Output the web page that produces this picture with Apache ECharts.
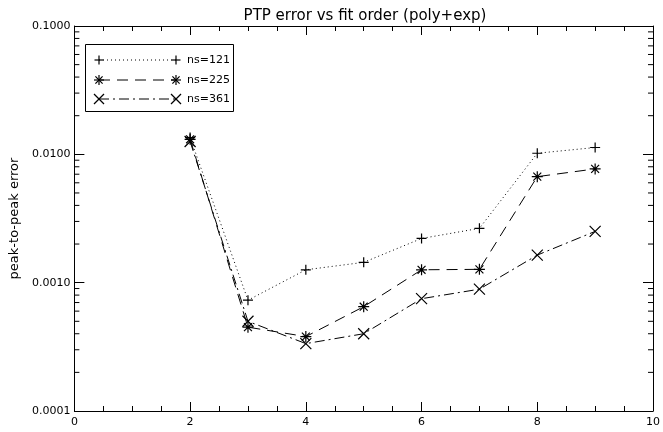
<!DOCTYPE html>
<html>
<head>
<meta charset="utf-8">
<script src="https://cdn.jsdelivr.net/npm/echarts@6/dist/echarts.min.js"></script>
<style>html,body{margin:0;padding:0;background:#fff}#c{width:663px;height:432px}</style>
</head>
<body>
<div id="c"></div>
<script>
// ---- data ----
var orders = [2, 3, 4, 5, 6, 7, 8, 9];
var seriesNames = ['ns=121', 'ns=225', 'ns=361'];
var ns121 = [0.0135, 0.00073, 0.00126, 0.00144, 0.00221, 0.00265, 0.0102, 0.0113];
var ns225 = [0.0131, 0.00045, 0.00038, 0.00065, 0.00126, 0.00127, 0.0067, 0.0077];
var ns361 = [0.0126, 0.00050, 0.000335, 0.00040, 0.00075, 0.00089, 0.00164, 0.00251];
var yTickLabels = ['0.0001', '0.0010', '0.0100', '0.1000'];
var minorMultipliers = [2, 3, 4, 5, 6, 7, 8, 9];
var decades = [0.0001, 0.001, 0.01];

var FONT = 'DejaVu Sans';
var G = {left: 72, right: 3, top: 26, bottom: 21};

// symbol paths
var PLUS = 'path://M-1,0L1,0M0,-1L0,1';
var STAR = 'path://M-1,0L1,0M0,-1L0,1M-0.72,-0.72L0.72,0.72M-0.72,0.72L0.72,-0.72';
var CROSS = 'path://M-1,-1L1,1M-1,1L1,-1';
var symbols = [PLUS, STAR, CROSS];
var symSizes = [10, 11, 11];
var dashes = [[1, 3], [11, 7], [10, 4, 2, 4]];
var allData = [ns121, ns225, ns361];

// minor tick values for the log axis (decoration)
var minorVals = [];
decades.forEach(function (d) {
  minorMultipliers.forEach(function (m) { minorVals.push([0, m * d]); });
});

function pairs(vals) {
  return orders.map(function (x, i) { return [x, vals[i]]; });
}

var series = allData.map(function (vals, i) {
  return {
    name: seriesNames[i],
    type: 'line',
    xAxisIndex: 0,
    yAxisIndex: 0,
    data: pairs(vals),
    symbol: symbols[i],
    symbolSize: symSizes[i],
    showAllSymbol: true,
    animation: false,
    lineStyle: {color: '#000', width: 1, type: dashes[i]},
    itemStyle: {color: 'rgba(0,0,0,0)', borderColor: '#000', borderWidth: 1.2}
  };
});

// minor ticks on the left and right log axes
series.push({
  type: 'custom',
  xAxisIndex: 0, yAxisIndex: 0,
  data: minorVals,
  silent: true, clip: false, z: 5,
  renderItem: function (params, api) {
    var v = api.value(1);
    var pl = api.coord([0, v]);
    var pr = api.coord([10, v]);
    return {
      type: 'group',
      children: [
        {type: 'line', shape: {x1: pl[0], y1: pl[1], x2: pl[0] + 5, y2: pl[1]}, style: {stroke: '#000', lineWidth: 1}},
        {type: 'line', shape: {x1: pr[0], y1: pr[1], x2: pr[0] - 5, y2: pr[1]}, style: {stroke: '#000', lineWidth: 1}}
      ]
    };
  }
});

var axisLineStyle = {show: true, onZero: false, lineStyle: {color: '#000', width: 1}};

var xBase = {
  type: 'value', min: 0, max: 10, interval: 2,
  axisLine: axisLineStyle,
  splitLine: {show: false},
  axisTick: {show: true, inside: true, length: 9, lineStyle: {color: '#000'}},
  minorTick: {show: true, splitNumber: 4, length: 5, lineStyle: {color: '#000'}}
};

var yBase = {
  type: 'log', logBase: 10, min: 0.0001, max: 0.1,
  axisLine: axisLineStyle,
  splitLine: {show: false},
  axisTick: {show: true, inside: true, length: 10, lineStyle: {color: '#000'}}
};

var option = {
  backgroundColor: '#fff',
  animation: false,
  title: {
    text: 'PTP error vs fit order (poly+exp)',
    left: 360, top: 4, textAlign: 'center',
    textStyle: {fontFamily: FONT, fontSize: 15, fontWeight: 'normal', color: '#000'}
  },
  grid: {left: G.left, right: G.right, top: G.top, bottom: G.bottom, containLabel: false},
  xAxis: [
    Object.assign({}, xBase, {
      position: 'bottom',
      axisLabel: {show: true, margin: 6, color: '#000', fontFamily: FONT, fontSize: 11, showMaxLabel: true}
    }),
    Object.assign({}, xBase, {
      position: 'top',
      axisLabel: {show: false}
    })
  ],
  yAxis: [
    Object.assign({}, yBase, {
      position: 'left',
      name: 'peak-to-peak error', nameLocation: 'middle', nameGap: 50, nameRotate: 90,
      nameTextStyle: {fontFamily: FONT, fontSize: 13, color: '#000'},
      axisLabel: {
        show: true, margin: 4, color: '#000', fontFamily: FONT, fontSize: 11,
        formatter: function (v) {
          var idx = Math.round(Math.log10(v)) + 4;
          return yTickLabels[idx] !== undefined ? yTickLabels[idx] : '';
        }
      }
    }),
    Object.assign({}, yBase, {
      position: 'right',
      axisLabel: {show: false}
    })
  ],
  series: series
};

// legend drawn as graphics (box, line samples with end markers, names)
function markerEls(kind, cx, cy, s) {
  var h = s / 2, d = h * 0.72, segs = [];
  if (kind === 0) segs = [[-h, 0, h, 0], [0, -h, 0, h]];
  if (kind === 1) segs = [[-h, 0, h, 0], [0, -h, 0, h], [-d, -d, d, d], [-d, d, d, -d]];
  if (kind === 2) segs = [[-h, -h, h, h], [-h, h, h, -h]];
  return segs.map(function (g) {
    return {type: 'line', shape: {x1: cx + g[0], y1: cy + g[1], x2: cx + g[2], y2: cy + g[3]},
      style: {stroke: '#000', lineWidth: 1.2}, silent: true};
  });
}
var legendEls = [{
  type: 'rect', shape: {x: 85.5, y: 44.5, width: 148, height: 67},
  style: {fill: '#fff', stroke: '#000', lineWidth: 1}, silent: true
}];
var rowsY = [60, 80, 99];
seriesNames.forEach(function (nm, i) {
  var y = rowsY[i];
  legendEls.push({type: 'line', shape: {x1: 99, y1: y, x2: 176, y2: y},
    style: {stroke: '#000', lineWidth: 1, lineDash: dashes[i]}, silent: true});
  legendEls = legendEls.concat(markerEls(i, 99, y, symSizes[i] - 1));
  legendEls = legendEls.concat(markerEls(i, 176, y, symSizes[i] - 1));
  legendEls.push({type: 'text', x: 187, y: y, style: {text: nm, fill: '#000', font: '11px "DejaVu Sans"',
    textVerticalAlign: 'middle', verticalAlign: 'middle'}, silent: true});
});
option.graphic = {elements: legendEls};

var chart = echarts.init(document.getElementById('c'), null, {renderer: 'canvas'});
chart.setOption(option);
</script>
</body>
</html>
